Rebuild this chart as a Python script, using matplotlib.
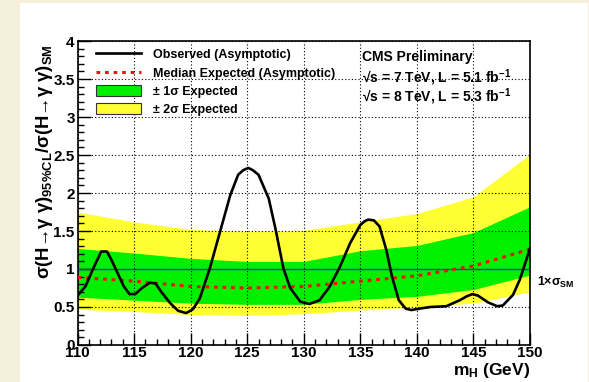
import numpy as np
import matplotlib
matplotlib.use("Agg")
import matplotlib.pyplot as plt
from matplotlib.patches import Patch, Rectangle
from matplotlib.lines import Line2D
from matplotlib.ticker import MultipleLocator

plt.rcParams['font.family'] = ['Liberation Sans', 'DejaVu Sans']
plt.rcParams['font.weight'] = 'bold'
plt.rcParams['mathtext.fontset'] = 'custom'
plt.rcParams['mathtext.rm'] = 'Liberation Sans:bold'
plt.rcParams['mathtext.bf'] = 'Liberation Sans:bold'
plt.rcParams['mathtext.it'] = 'Liberation Sans:bold'
plt.rcParams['mathtext.sf'] = 'Liberation Sans:bold'

# Observed 95% CL limit on sigma/sigma_SM
obs_mass = [110.0, 110.7, 111.4, 112.1, 112.6, 113.0, 113.5, 114.1, 114.6, 115.1,
            115.7, 116.4, 116.9, 117.4, 118.2, 118.9, 119.6, 120.2, 120.8, 121.7,
            122.6, 123.5, 124.2, 124.65, 125.1, 125.5, 126.0, 126.9, 127.5, 128.2,
            128.8, 129.7, 130.5, 131.4, 132.3, 133.2, 134.1, 135.0, 135.4, 135.7,
            136.2, 136.7, 137.3, 137.8, 138.4, 139.0, 139.5, 140.3, 141.2, 142.6,
            143.8, 144.4, 144.9, 145.4, 146.3, 147.1, 147.6, 148.5, 149.1, 150.0]
obs_limit = [0.65, 0.77, 1.01, 1.23, 1.23, 1.12, 0.96, 0.77, 0.67, 0.67,
             0.75, 0.82, 0.81, 0.70, 0.55, 0.45, 0.42, 0.47, 0.61, 1.01,
             1.49, 1.97, 2.24, 2.30, 2.33, 2.30, 2.24, 1.93, 1.53, 1.01,
             0.75, 0.57, 0.54, 0.59, 0.77, 1.03, 1.34, 1.58, 1.63, 1.65,
             1.64, 1.56, 1.25, 0.90, 0.59, 0.48, 0.46, 0.48, 0.50, 0.51,
             0.59, 0.64, 0.67, 0.65, 0.56, 0.51, 0.52, 0.66, 0.86, 1.27]

# Expected limit and bands
exp_mass = [110, 115, 120, 125, 130, 135, 140, 145, 150]
exp_median = [0.89, 0.84, 0.77, 0.75, 0.77, 0.84, 0.91, 1.04, 1.26]
band1_lo = [0.63, 0.59, 0.55, 0.535, 0.535, 0.60, 0.64, 0.73, 0.92]
band1_hi = [1.27, 1.21, 1.14, 1.10, 1.10, 1.24, 1.31, 1.48, 1.82]
band2_lo = [0.47, 0.44, 0.40, 0.39, 0.41, 0.46, 0.50, 0.55, 0.70]
band2_hi = [1.75, 1.62, 1.52, 1.50, 1.51, 1.62, 1.73, 1.95, 2.51]

W, H = 589, 382
fig = plt.figure(figsize=(W / 100, H / 100), dpi=100)
fig.patch.set_facecolor('#f5f0dc')
fig.patches.append(Rectangle((20 / W, 0), 568 / W, 1 - 3 / H, transform=fig.transFigure,
                             facecolor='white', edgecolor='none', zorder=-5))

ax = fig.add_axes([77.5 / W, 1 - 345 / H, (530 - 77.5) / W, (345 - 41) / H])
ax.set_zorder(1)
ax.patch.set_alpha(0)
ax.set_xlim(110, 150)
ax.set_ylim(0, 4)

ax.fill_between(exp_mass, band2_lo, band2_hi, color='#ffff33', lw=0, zorder=1)
ax.fill_between(exp_mass, band1_lo, band1_hi, color='#00f000', lw=0, zorder=2)

ax.grid(True, which='major', color='black', linestyle=(0, (1, 2)), linewidth=0.8, zorder=3)
ax.set_axisbelow(False)
ax.axhline(1.0, color='#1f3fbf', lw=1.0, zorder=4)

ax.plot(exp_mass, exp_median, color='#ee1111', lw=2.2, linestyle=(0, (1.2, 1.6)), zorder=5)
ax.plot(obs_mass, obs_limit, color='black', lw=1.9, zorder=6, solid_joinstyle='round')

ax.xaxis.set_major_locator(MultipleLocator(5))
ax.xaxis.set_minor_locator(MultipleLocator(1))
ax.yaxis.set_major_locator(MultipleLocator(0.5))
ax.yaxis.set_minor_locator(MultipleLocator(0.1))
ax.tick_params(which='both', direction='in', top=False, right=False, labelsize=11, width=1.0)
ax.tick_params(which='major', length=9)
ax.tick_params(which='minor', length=4.5)
ax.tick_params(axis='x', pad=1)
ax.tick_params(axis='y', pad=2)
ax.set_yticks([0, 0.5, 1, 1.5, 2, 2.5, 3, 3.5, 4])
ax.set_yticklabels(['0', '0.5', '1', '1.5', '2', '2.5', '3', '3.5', '4'])
for lab in ax.get_xticklabels() + ax.get_yticklabels():
    lab.set_fontweight('bold')
for sp in ax.spines.values():
    sp.set_linewidth(1.2)

ax.text(150, -0.34, r'm$_{\mathregular{H}}$ (GeV)', ha='right', va='center', fontsize=12.5,
        fontweight='bold', clip_on=False)

fig.text(45 / W, 1 - 162 / H,
         r'σ(H→γ γ)$_{\mathregular{95\%CL}}$/σ(H→γ γ)$_{\mathregular{SM}}$',
         rotation=90, ha='center', va='center', fontsize=13.3, fontweight='bold')

fig.text(537 / W, 1 - 282 / H, r'1×σ$_{\mathregular{SM}}$', ha='left', va='center',
         fontsize=9, fontweight='bold')

handles = [Line2D([], [], color='black', lw=1.9),
           Line2D([], [], color='#ee1111', lw=2.2, linestyle=(0, (1.2, 1.6))),
           Patch(facecolor='#00f000', edgecolor='#333333', lw=0.8),
           Patch(facecolor='#ffff33', edgecolor='#333333', lw=0.8)]
labels = ['Observed (Asymptotic)', 'Median Expected (Asymptotic)',
          '± 1σ Expected', '± 2σ Expected']
leg = ax.legend(handles, labels, loc='upper left', bbox_to_anchor=(0.025, 1.0),
                frameon=False, fontsize=9, handlelength=3.6, handleheight=1.0,
                handletextpad=0.9, labelspacing=0.42, borderaxespad=0.2)
for t in leg.get_texts():
    t.set_fontweight('bold')

fig.text(362 / W, 1 - 57 / H, 'CMS Preliminary', ha='left', va='center', fontsize=10,
         fontweight='bold')
fig.text(362 / W, 1 - 78 / H, r'√s = 7 TeV, L = 5.1 fb$^{\mathregular{-1}}$',
         ha='left', va='center', fontsize=10, fontweight='bold')
fig.text(362 / W, 1 - 97 / H, r'√s = 8 TeV, L = 5.3 fb$^{\mathregular{-1}}$',
         ha='left', va='center', fontsize=10, fontweight='bold')

fig.savefig('out.png', dpi=100, facecolor=fig.get_facecolor())
